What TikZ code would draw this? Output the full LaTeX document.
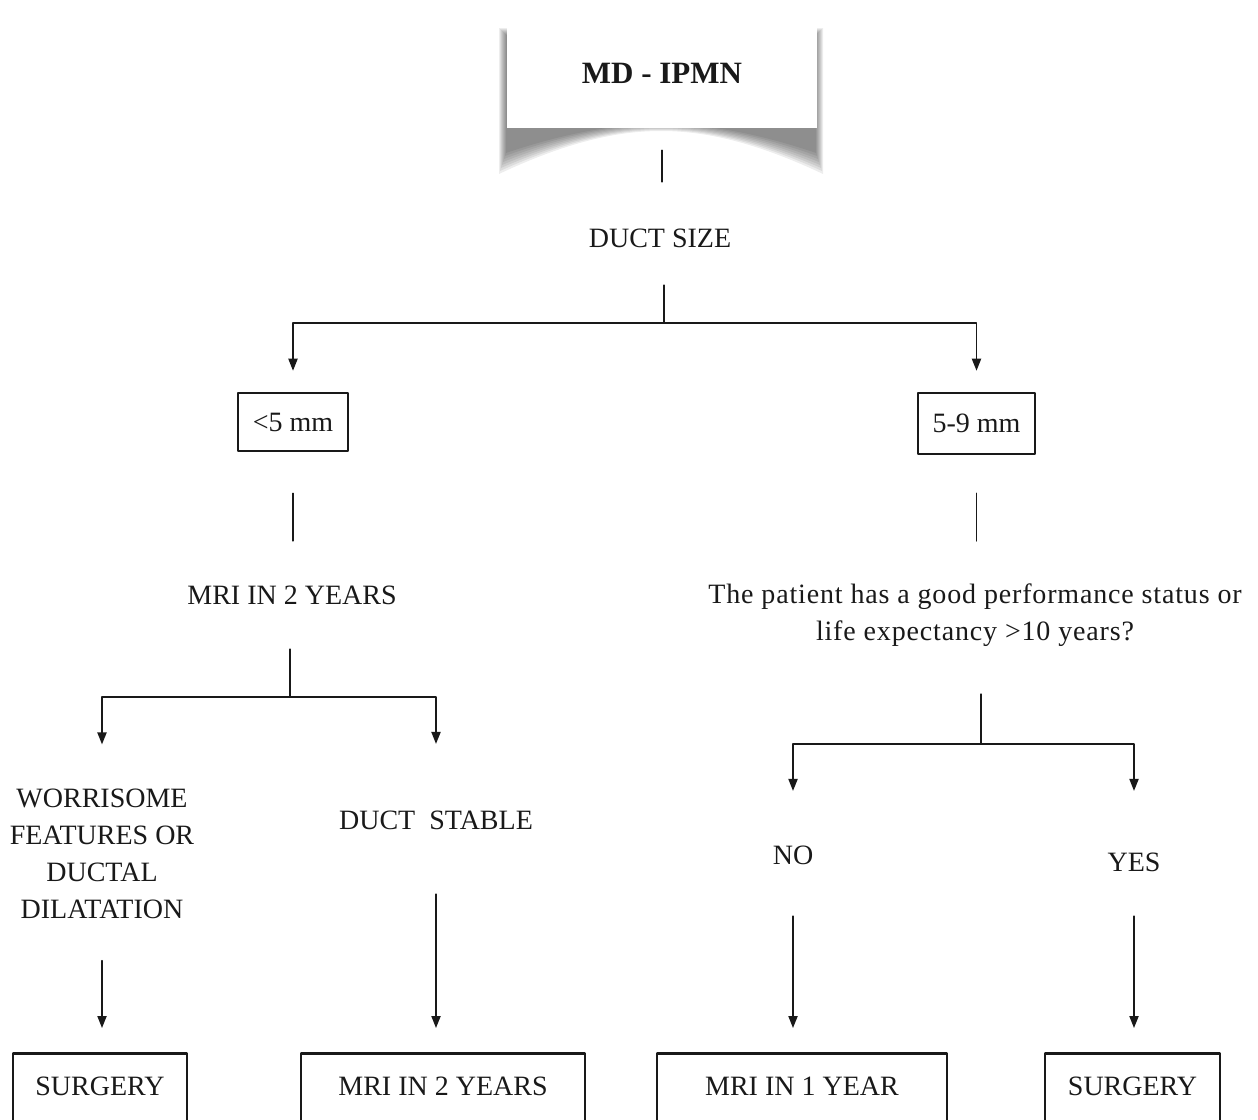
\documentclass[tikz,border=0pt]{standalone}
\usepackage{fontspec}
\setmainfont{Liberation Serif}
\usepackage{tikz}
\usetikzlibrary{arrows.meta}
\definecolor{lnk}{rgb}{0.1,0.1,0.1}
\tikzset{
  txt/.style={inner sep=0pt,align=center,font=\fontsize{14}{18.5}\selectfont},
  bx/.style={txt,draw=lnk,line width=1.3pt,inner sep=0pt},
  endbx/.style={bx,anchor=north,text height=21pt,text depth=40pt},
  hd/.style={fill=white,inner sep=0pt,minimum width=155pt,minimum height=54.5pt,font=\bfseries\fontsize{15.5}{18}\selectfont}
}
\begin{document}
\begin{tikzpicture}[line cap=round,line join=round,>={Triangle[length=6pt,width=4.6pt]},x=0.5pt,y=-0.5pt,line width=0.7pt,color=lnk]
\useasboundingbox (0,0) rectangle (1258,1119);
\clip (0,0) rectangle (1258,1119);

% page curl shadow of the title
\foreach \s in {0,...,7}
  \fill[black,opacity=0.07] (499+\s,28+\s) -- (499+\s,174-3*\s) .. controls (575,138-1.2*\s) and (625,131-\s) .. (661,131-\s) .. controls (697,131-\s) and (747,138-1.2*\s) .. (823-\s,174-3*\s) -- (823-\s,28+\s) -- cycle;
\node[hd] (top) at (662,73) {MD - IPMN};

\node[txt] (duct) at (660,238) {DUCT SIZE};
\node[bx,minimum width=55pt,minimum height=29pt] (lt) at (293,422) {<5 mm};
\node[bx,minimum width=58.5pt,minimum height=30.5pt] (rt) at (976.5,423.5) {5-9 mm};
\node[txt] (mri2) at (292,595) {MRI IN 2 YEARS};
\node[txt,font=\fontsize{14}{18.5}\selectfont\addfontfeature{LetterSpace=3}] (q) at (975,615) {The patient has a good performance status or\\life expectancy >10 years?};
\node[txt] (wf) at (102,854) {WORRISOME\\FEATURES OR\\DUCTAL\\DILATATION};
\node[txt] (ds) at (436,820) {DUCT\ \ STABLE};
\node[txt] (no) at (793,855) {NO};
\node[txt] (yes) at (1134,862) {YES};
\node[endbx,minimum width=87pt] (s1) at (100,1052) {SURGERY};
\node[endbx,minimum width=142pt] (m2) at (443,1052) {MRI IN 2 YEARS};
\node[endbx,minimum width=145pt] (m1) at (802,1052) {MRI IN 1 YEAR};
\node[endbx,minimum width=87.5pt] (s2) at (1132.5,1052) {SURGERY};

\coordinate (f1) at (664,323);
\coordinate (f2) at (290,697);
\coordinate (f3) at (981,744);

\draw[shorten <=11pt,shorten >=23pt] (top.south) -- (top.south |- duct.north);
\draw[shorten <=18.5pt] (duct.south -| f1) -- (f1);
\draw[->,shorten >=10.5pt] (f1) -| (lt.north);
\draw[->,shorten >=10.5pt] (f1) -| (rt.north);
\draw[shorten <=20.5pt,shorten >=22pt] (lt.south) -- (lt.south |- mri2.north);
\draw[shorten <=19pt,shorten >=21pt] (rt.south) -- (rt.south |- q.north);
\draw[shorten <=22pt] (mri2.south -| f2) -- (f2);
\draw[->,shorten >=22pt] (f2) -| (wf.north);
\draw[->,shorten >=33pt] (f2) -| (ds.north);
\draw[shorten <=23.5pt] (q.south -| f3) -- (f3);
\draw[->,shorten >=27pt] (f3) -| (no.north);
\draw[->,shorten >=30.5pt] (f3) -| (yes.north);
\draw[->,shorten <=20.5pt,shorten >=12pt] (wf.south) -- (wf.south |- s1.north);
\draw[->,shorten <=32pt,shorten >=12pt] (ds.south) -- (ds.south |- m2.north);
\draw[->,shorten <=25.5pt,shorten >=12pt] (no.south) -- (no.south |- m1.north);
\draw[->,shorten <=22pt,shorten >=12pt] (yes.south) -- (yes.south |- s2.north);
\end{tikzpicture}
\end{document}
